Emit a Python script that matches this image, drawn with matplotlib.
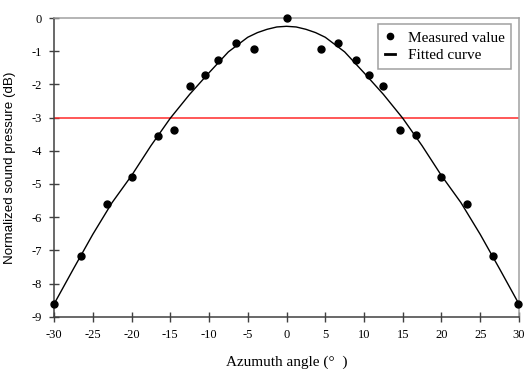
import matplotlib

matplotlib.use("Agg")

import matplotlib.pyplot as plt

# ====
# DATA
# ====
angle_deg = [-30, -26.5, -23.2, -19.9, -16.6, -14.5, -12.4, -10.5, -8.8, -6.5, -4.2, 0,
             4.4, 6.7, 9.0, 10.6, 12.5, 14.6, 16.7, 19.9, 23.3, 26.6, 29.9]
pressure_db = [-8.62, -7.16, -5.61, -4.78, -3.55, -3.37, -2.05, -1.73, -1.27, -0.76, -0.92, 0.0,
               -0.92, -0.75, -1.27, -1.72, -2.05, -3.37, -3.54, -4.78, -5.61, -7.17, -8.62]

# Fitted curve
fit_angle = [-30, -27.5, -25, -22.5, -20, -17.5, -15, -12.5, -10, -7.5, -5, -3.75, -2.5, -1.25, 0,
             1.25, 2.5, 3.75, 5, 7.5, 10, 12.5, 15, 17.5, 20, 22.5, 25, 27.5, 30]
fit_db = [-8.62, -7.56, -6.52, -5.56, -4.75, -3.85, -3.02, -2.30, -1.65, -1.02, -0.58, -0.44, -0.34,
          -0.27, -0.25,
          -0.27, -0.34, -0.44, -0.58, -1.02, -1.65, -2.30, -3.02, -3.85, -4.75, -5.56, -6.52, -7.56,
          -8.62]

threshold_db = -3
x_ticks = list(range(-30, 31, 5))
y_ticks = list(range(-9, 1))

# ====
# PLOT
# ====
plt.rcParams["axes.unicode_minus"] = False
serif = ["Liberation Serif", "DejaVu Serif"]

fig = plt.figure(figsize=(5.27, 3.69), dpi=100)
ax = fig.add_axes([0.1025, 0.1417, 0.8823, 0.8095])

ax.axhline(threshold_db, color="#ff2a2a", lw=1.1, zorder=2)
ax.plot(fit_angle, fit_db, color="black", lw=1.0, label="Fitted curve", zorder=3)
ax.plot(angle_deg, pressure_db, "o", color="black", ms=5, label="Measured value",
        clip_on=False, zorder=4)

ax.set_xlim(-30, 30)
ax.set_ylim(-9, 0)
ax.set_xticks(x_ticks)
ax.set_yticks(y_ticks)
ax.tick_params(direction="inout", length=7, width=1.0, color="#404040",
               labelsize=9, pad=5)
for lab in ax.get_xticklabels() + ax.get_yticklabels():
    lab.set_family(serif)

for side in ["left", "bottom"]:
    ax.spines[side].set_color("#404040")
    ax.spines[side].set_linewidth(1.1)
for side in ["top", "right"]:
    ax.spines[side].set_color("#a0a0a0")
    ax.spines[side].set_linewidth(1.1)

ax.set_xlabel("Azumuth angle (°  )", family=serif, fontsize=11)
ax.set_ylabel("Normalized sound pressure (dB)", family=["Liberation Sans", "DejaVu Sans"],
              fontsize=9.6)
ax.yaxis.set_label_coords(-0.082, 0.5)
ax.xaxis.set_label_coords(0.5, -0.13)

handles, labels = ax.get_legend_handles_labels()
leg = ax.legend(handles[::-1], labels[::-1], loc="upper right", bbox_to_anchor=(1.0, 1.005),
                prop={"family": serif, "size": 11}, fancybox=False, framealpha=1,
                edgecolor="#a0a0a0", handlelength=0.7, handletextpad=0.8,
                labelspacing=0.25, borderpad=0.45, markerscale=0.9)
leg.get_frame().set_linewidth(1.1)
leg.get_lines()[1].set_linewidth(2.0)

fig.savefig("out.png", dpi=100)
